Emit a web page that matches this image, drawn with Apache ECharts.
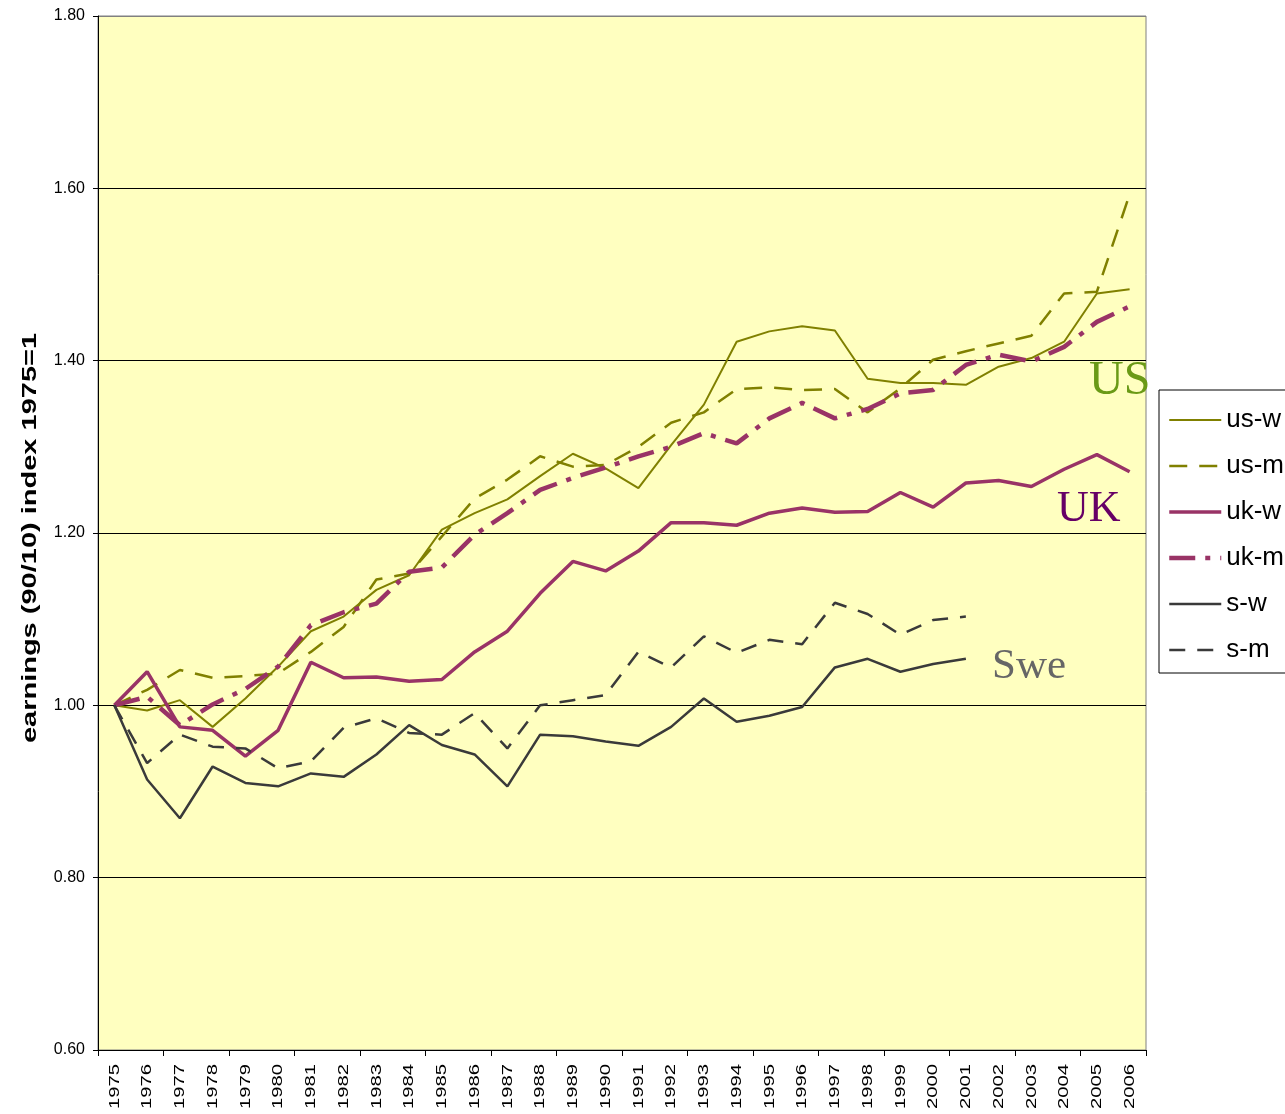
<!DOCTYPE html>
<html>
<head>
<meta charset="utf-8">
<script src="https://cdn.jsdelivr.net/npm/echarts@6/dist/echarts.min.js"></script>
<style>
  html, body { margin: 0; padding: 0; background: #fff; }
  #main { width: 1285px; height: 1114px; }
</style>
</head>
<body>
<div id="main"></div>
<script>
var years = ['1975','1976','1977','1978','1979','1980','1981','1982','1983','1984','1985','1986','1987','1988','1989','1990',
  '1991','1992','1993','1994','1995','1996','1997','1998','1999','2000','2001','2002','2003','2004','2005','2006'];

var usW = [1.000, 0.994, 1.006, 0.975, 1.008, 1.045, 1.086, 1.103, 1.134, 1.151, 1.204, 1.223, 1.239, 1.266, 1.292, 1.275,
  1.252, 1.302, 1.349, 1.422, 1.434, 1.440, 1.435, 1.379, 1.374, 1.374, 1.372, 1.393, 1.403, 1.422, 1.478, 1.483];
var usM = [1.000, 1.018, 1.041, 1.032, 1.034, 1.037, 1.062, 1.091, 1.146, 1.153, 1.196, 1.240, 1.262, 1.289, 1.277, 1.279,
  1.300, 1.328, 1.340, 1.367, 1.369, 1.366, 1.367, 1.340, 1.368, 1.401, 1.411, 1.420, 1.429, 1.478, 1.480, 1.593];
var ukW = [1.000, 1.039, 0.975, 0.971, 0.941, 0.971, 1.050, 1.032, 1.033, 1.028, 1.030, 1.062, 1.086, 1.130, 1.167, 1.156,
  1.179, 1.212, 1.212, 1.209, 1.223, 1.229, 1.224, 1.225, 1.247, 1.230, 1.258, 1.261, 1.254, 1.274, 1.291, 1.271];
var ukM = [1.000, 1.010, 0.977, 1.001, 1.019, 1.045, 1.093, 1.108, 1.118, 1.155, 1.160, 1.198, 1.223, 1.250, 1.264, 1.276,
  1.289, 1.300, 1.316, 1.304, 1.333, 1.351, 1.333, 1.344, 1.362, 1.366, 1.395, 1.407, 1.399, 1.416, 1.445, 1.463];
var sW = [1.000, 0.914, 0.869, 0.929, 0.910, 0.906, 0.921, 0.917, 0.943, 0.977, 0.954, 0.943, 0.906, 0.966, 0.964, 0.958,
  0.953, 0.975, 1.008, 0.981, 0.988, 0.998, 1.044, 1.054, 1.039, 1.048, 1.054];
var sM = [1.000, 0.933, 0.966, 0.952, 0.950, 0.927, 0.935, 0.974, 0.985, 0.968, 0.966, 0.991, 0.950, 1.000, 1.006, 1.012,
  1.062, 1.044, 1.080, 1.061, 1.076, 1.071, 1.119, 1.106, 1.082, 1.099, 1.103];

var yTitle = 'earnings (90/10) index 1975=1';

var olive = '#808000';
var plum = '#993366';
var dark = '#3a3a3a';
var font = 'Arial, "Liberation Sans", sans-serif';

function line(name, data, color, width, type) {
  return {
    name: name,
    type: 'line',
    data: data,
    symbol: 'none',
    lineStyle: { color: color, width: width, type: type },
    itemStyle: { color: color }
  };
}

var chart = echarts.init(document.getElementById('main'));

var option = {
  animation: false,
  backgroundColor: '#ffffff',
  textStyle: { fontFamily: font },
  grid: {
    left: 98, right: 139, top: 16, bottom: 64,
    show: true,
    backgroundColor: '#FFFFC0',
    borderColor: '#808080',
    borderWidth: 1
  },
  legend: {
    orient: 'vertical',
    left: 1159,
    top: 390,
    padding: [15, 80, 8, 8],
    borderColor: '#000',
    borderWidth: 1,
    backgroundColor: '#fff',
    itemWidth: 52,
    itemHeight: 14,
    itemGap: 16,
    itemStyle: { opacity: 0 },
    lineStyle: { width: 'inherit', type: 'inherit' },
    textStyle: { fontSize: 26, lineHeight: 30, color: '#000', fontFamily: font },
    data: ['us-w', 'us-m', 'uk-w', 'uk-m', 's-w', 's-m']
  },
  xAxis: {
    type: 'category',
    data: years,
    boundaryGap: true,
    axisLine: { lineStyle: { color: '#000', width: 1 } },
    axisTick: { show: true, length: 6, lineStyle: { color: '#000' } },
    axisLabel: { show: false },
    splitLine: { show: false }
  },
  yAxis: {
    type: 'value',
    min: 0.6,
    max: 1.8,
    interval: 0.2,
    axisLine: { show: true, lineStyle: { color: '#000', width: 1 } },
    axisTick: { show: true, length: 5, lineStyle: { color: '#000' } },
    axisLabel: { fontSize: 16, color: '#000', margin: 13, formatter: function (v) { return v.toFixed(2); } },
    splitLine: { show: true, lineStyle: { color: ['#000', '#000', '#000', '#000', '#000', '#000', '#808080'], width: 1 } }
  },
  series: [
    line('us-w', usW, olive, 2, 'solid'),
    line('us-m', usM, olive, 2.5, [18, 12]),
    line('uk-w', ukW, plum, 3.5, 'solid'),
    line('uk-m', ukM, plum, 4.5, [26, 10, 5, 10]),
    line('s-w', sW, dark, 2.5, 'solid'),
    line('s-m', sM, dark, 2.5, [16, 12])
  ]
};

chart.setOption(option);

// stretched (rotated) texts: x labels and the y title, placed through the axes
var axisY = chart.convertToPixel({ yAxisIndex: 0 }, 0.6);
var midY = chart.convertToPixel({ yAxisIndex: 0 }, 1.2);
var graphics = [];
years.forEach(function (yr) {
  graphics.push({
    type: 'text',
    x: chart.convertToPixel({ xAxisIndex: 0 }, yr),
    y: axisY + 14,
    rotation: Math.PI / 2,
    scaleX: 1.35,
    silent: true,
    style: { text: yr, font: '15px ' + font, fill: '#000', align: 'right', verticalAlign: 'middle' }
  });
});
graphics.push({
  type: 'text',
  x: 30,
  y: midY + 5,
  rotation: Math.PI / 2,
  scaleX: 1.45,
  silent: true,
  style: { text: yTitle, font: 'bold 20px ' + font, fill: '#000', align: 'center', verticalAlign: 'middle' }
});
graphics.push(
  { type: 'text', left: 1089, top: 357, z: 10,
    style: { text: 'US', font: '48px "Liberation Serif", "Times New Roman", serif', fill: '#6a9a16' } },
  { type: 'text', left: 1057, top: 487, z: 10,
    style: { text: 'UK', font: '44px "Liberation Serif", "Times New Roman", serif', fill: '#660066' } },
  { type: 'text', left: 992, top: 645, z: 10,
    style: { text: 'Swe', font: '43px "Liberation Serif", "Times New Roman", serif', fill: '#666666' } }
);
chart.setOption({ graphic: graphics });
</script>
</body>
</html>
